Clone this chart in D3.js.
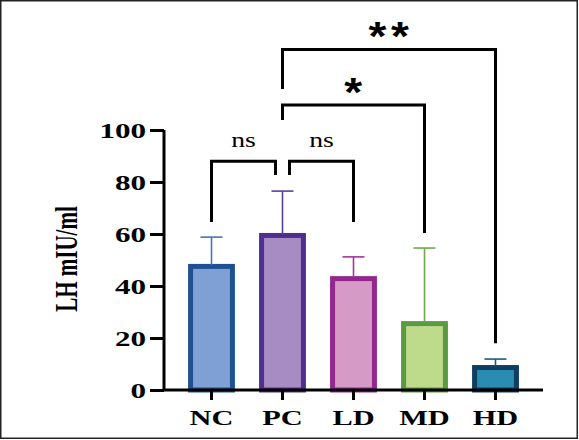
<!DOCTYPE html>
<html><head><meta charset="utf-8">
<script src="https://cdn.jsdelivr.net/npm/d3@7"></script>
<style>html,body{margin:0;padding:0;background:#fff;}svg{display:block;}</style>
</head><body>
<svg id="c" width="579" height="440"></svg>
<script>
// ---- data ----
const categories = ["NC", "PC", "LD", "MD", "HD"];
const means = [48.5, 60.4, 43.8, 26.5, 9.6];
const sds = [10.3, 16.1, 7.4, 28.1, 2.3];
const yTicks = [0, 20, 40, 60, 80, 100];
const yLabel = "LH mIU/ml";
// significance comparisons
const compFrom = ["NC", "PC", "PC", "PC"];
const compTo = ["PC", "LD", "MD", "HD"];
const compText = ["ns", "ns", "*", "**"];
const compTop = [88, 88, 109.6, 131];
const compFromEnd = [64.6, 82.7, 103.8, 115.8];
const compToEnd = [82.7, 64.6, 60.4, 18];

// ---- styles ----
const fills = ["#7fa0d5", "#a78bc3", "#d59bc6", "#bedb8b", "#2a8cb0"];
const strokes = ["#1f5192", "#4e2f8f", "#93278f", "#5b9a43", "#0f3f60"];
const errCols = ["#4a72b5", "#5b3fa0", "#a3359e", "#6aaa4a", "#1e5a7a"];
const serif = "'Liberation Serif','Times New Roman',serif";
const SX = 1.42;

const svg = d3.select("#c");
svg.append("rect").attr("x", 0.75).attr("y", 0.75).attr("width", 576.5).attr("height", 437.5)
  .attr("fill", "#fff").attr("stroke", "#222").attr("stroke-width", 1.5);

const x = d3.scaleBand().domain(categories).range([176, 531]).paddingInner(0.34).paddingOuter(0.17);
const y = d3.scaleLinear().domain([0, 100]).range([390, 130]);
const bw = x.bandwidth();
const cx = c => x(c) + bw / 2;

// bars
const SW = 5;
svg.append("g").selectAll("rect").data(categories).join("rect")
  .attr("x", c => x(c) + SW / 2)
  .attr("y", (c, i) => y(means[i]) + SW / 2)
  .attr("width", bw - SW)
  .attr("height", (c, i) => y(0) - y(means[i]) - SW / 2)
  .attr("fill", (c, i) => fills[i])
  .attr("stroke", (c, i) => strokes[i])
  .attr("stroke-width", SW);

// error bars
const eg = svg.append("g");
categories.forEach((c, i) => {
  const top = y(means[i] + sds[i]);
  eg.append("line").attr("x1", cx(c)).attr("x2", cx(c)).attr("y1", y(means[i]) + 1).attr("y2", top)
    .attr("stroke", errCols[i]).attr("stroke-width", 1.6);
  eg.append("line").attr("x1", cx(c) - 11).attr("x2", cx(c) + 11).attr("y1", top).attr("y2", top)
    .attr("stroke", errCols[i]).attr("stroke-width", 1.6);
});

// y axis
const ya = svg.append("g").attr("transform", "translate(164,0)")
  .call(d3.axisLeft(y).tickValues(yTicks).tickSize(14).tickFormat(""));
ya.selectAll("path,line").attr("stroke", "#000").attr("stroke-width", 3);
ya.select(".domain").attr("d", `M0,${y(100)}V${y(0)}`);
svg.append("g").selectAll("text").data(yTicks).join("text")
  .attr("transform", d => `translate(146,${y(d)}) scale(${SX + 0.06},1)`)
  .attr("dy", "0.36em").attr("text-anchor", "end")
  .attr("font-family", serif).attr("font-weight", "bold").attr("font-size", 21)
  .text(d => d);

// x axis
const xa = svg.append("g").attr("transform", `translate(0,${y(0)})`)
  .call(d3.axisBottom(x).tickSize(10).tickFormat(""));
xa.selectAll("path,line").attr("stroke", "#000").attr("stroke-width", 3);
xa.select(".domain").attr("d", "M163,0H543");
svg.append("g").selectAll("text").data(categories).join("text")
  .attr("transform", c => `translate(${cx(c)},425) scale(${SX - 0.04},1)`)
  .attr("text-anchor", "middle")
  .attr("font-family", serif).attr("font-weight", "bold").attr("font-size", 22)
  .text(c => c);

// y label
svg.append("text")
  .attr("transform", `translate(77,259) scale(${SX + 0.05},1) rotate(-90)`)
  .attr("text-anchor", "middle")
  .attr("font-family", serif).attr("font-weight", "bold").attr("font-size", 21)
  .text(yLabel);

// significance brackets
const bg = svg.append("g");
compFrom.forEach((f, i) => {
  let x1 = cx(f), x2 = cx(compTo[i]);
  if (compText[i] === "ns") {
    if (f === "PC") x1 += 7;
    if (compTo[i] === "PC") x2 -= 7;
  }
  const yt = y(compTop[i]);
  bg.append("path")
    .attr("d", `M${x1},${y(compFromEnd[i])}V${yt}H${x2}V${y(compToEnd[i])}`)
    .attr("fill", "none").attr("stroke", "#000").attr("stroke-width", 3);
  const mid = (x1 + x2) / 2;
  if (compText[i] === "ns") {
    bg.append("text")
      .attr("transform", `translate(${mid},${yt - 14}) scale(1.32,1)`)
      .attr("text-anchor", "middle")
      .attr("font-family", serif).attr("font-size", 21)
      .text(compText[i]);
  } else {
    bg.append("text")
      .attr("transform", `translate(${mid + 2},${yt + 1}) scale(1.15,1)`)
      .attr("text-anchor", "middle")
      .attr("font-family", "'Liberation Sans',Arial,sans-serif").attr("font-weight", "bold")
      .attr("font-size", 40).attr("letter-spacing", 4)
      .text(compText[i]);
  }
});
</script>
</body></html>
